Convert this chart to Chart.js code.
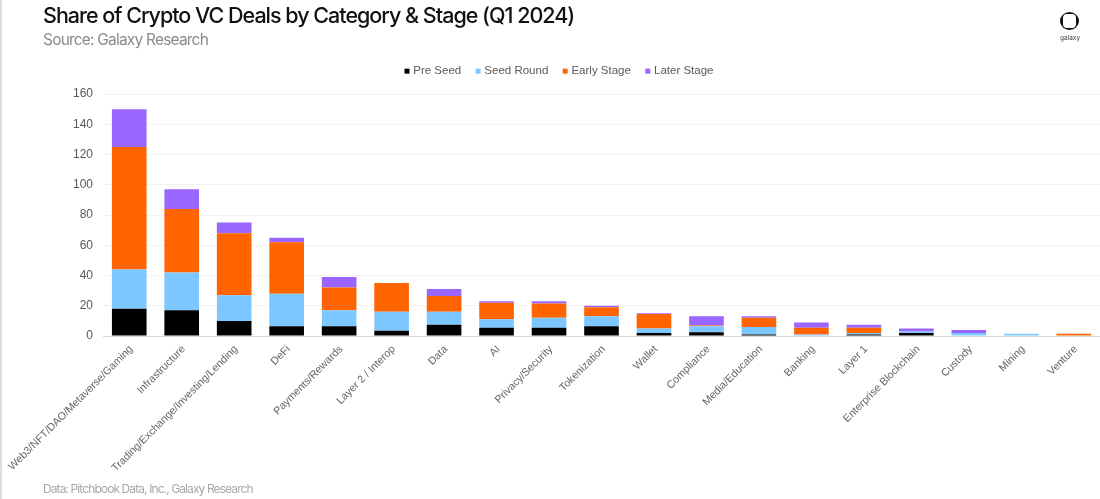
<!DOCTYPE html>
<html><head><meta charset="utf-8">
<style>
html,body{margin:0;padding:0;background:#fff;width:1100px;height:499px;overflow:hidden}
#wrap{position:relative;width:1100px;height:499px}
#c{position:absolute;left:0;top:0}
#edge{position:absolute;left:0;top:0;width:2px;height:499px;background:#dcdcdc}
.t{position:absolute;white-space:nowrap}
#title{left:43px;top:2px;font:500 21.5px Inter,sans-serif;color:#111;letter-spacing:-1px}
#sub{left:43px;top:30px;font:400 15.5px Inter,sans-serif;color:#8a8a8a;letter-spacing:-.8px}
#foot{left:43px;top:481px;font:400 12px Inter,sans-serif;color:#a8a8a8;letter-spacing:-.9px}
#brand{left:1060px;top:34px;font:400 6.5px Inter,sans-serif;color:#444}
#logo{position:absolute;left:1060px;top:12px;width:19px;height:18px;border-radius:50%;background:#111}
#logo i{position:absolute;left:3px;top:2px;width:13px;height:14px;border-radius:4px;background:#fff}
</style></head><body>
<div id="wrap">
<canvas id="c" width="1100" height="499" style="width:1100px;height:499px"></canvas>
<div id="edge"></div>
<div class="t" id="title">Share of Crypto VC Deals by Category &amp; Stage (Q1 2024)</div>
<div class="t" id="sub">Source: Galaxy Research</div>
<div class="t" id="foot">Data: Pitchbook Data, Inc., Galaxy Research</div>
<div id="logo"><i></i></div><div class="t" id="brand">galaxy</div>
</div>
<script src="https://cdn.jsdelivr.net/npm/chart.js@4"></script>
<script>
const categories=["Web3/NFT/DAO/Metaverse/Gaming","Infrastructure","Trading/Exchange/Investing/Lending","DeFi","Payments/Rewards","Layer 2 / Interop","Data","AI","Privacy/Security","Tokenization","Wallet","Compliance","Media/Education","Banking","Layer 1","Enterprise Blockchain","Custody","Mining","Venture"];
const preSeed=[18,17,10,6.5,6.5,3.5,7.5,5.5,5.5,6.5,2,2.5,1,0,1,2,0,0,0];
const seedRound=[26,25,17,21.5,10.5,12.5,8.5,5.5,6.5,6.5,3,4,5,1,1,1,2,1.5,0];
const earlyStage=[81,42,41,34,15,19,10.5,11,9.5,6,9.5,0.5,6,4.5,3.5,0,0,0,1.5];
const laterStage=[25,13,7,3,7,0,4.5,1,1.5,1,0.5,6,1,3.5,2,2,2,0,0];
const yTicks=[0,20,40,60,80,100,120,140,160];
const grey='#595959';
Chart.defaults.font.family='"Liberation Sans",Arial,sans-serif';
const mk=(label,data,color)=>({label,data,backgroundColor:color,borderWidth:0,categoryPercentage:1,barPercentage:.66});
const legendTweak={id:'legendTweak',beforeLayout(chart){
  const l=chart.legend; if(!l||l._tw) return; l._tw=1;
  const fit=l.fit.bind(l); l.fit=function(){fit(); this.height=45;};
  const dr=l._draw.bind(l); l._draw=function(){const c=this.ctx;c.save();c.translate(10,0);dr();c.restore();};
}};
new Chart(document.getElementById('c'),{
 type:'bar',
 plugins:[legendTweak],
 data:{labels:categories,datasets:[
  mk('Pre Seed',preSeed,'#000000'),
  mk('Seed Round',seedRound,'#7CC7FF'),
  mk('Early Stage',earlyStage,'#FF6400'),
  mk('Later Stage',laterStage,'#9966FF')]},
 options:{
  responsive:false,animation:false,devicePixelRatio:1,
  layout:{padding:{top:49,left:0,right:0,bottom:0}},
  plugins:{
   tooltip:{enabled:false},
   legend:{position:'top',align:'center',labels:{usePointStyle:true,pointStyle:'rect',boxWidth:1,boxHeight:5,padding:16.4,color:grey,font:{size:11.5}}}
  },
  scales:{
   x:{stacked:true,
      grid:{display:false,drawTicks:false},
      border:{color:'#d9d9d9'},
      ticks:{autoSkip:false,maxRotation:45,minRotation:45,color:'#666666',font:{size:10.7},padding:7,labelOffset:2},
      afterFit(s){s.height=163;s.paddingLeft=0;s.paddingRight=0;}
   },
   y:{stacked:true,min:0,max:160,
      afterBuildTicks(s){s.ticks=yTicks.map(v=>({value:v}));},
      grid:{color:'#f3f3f3',drawTicks:false},
      border:{display:false},
      ticks:{color:grey,font:{size:12},padding:10},
      afterFit(s){s.width=103;s.paddingTop=0;s.paddingBottom=0;}
   }
  }
 }
});
</script>
</body></html>
